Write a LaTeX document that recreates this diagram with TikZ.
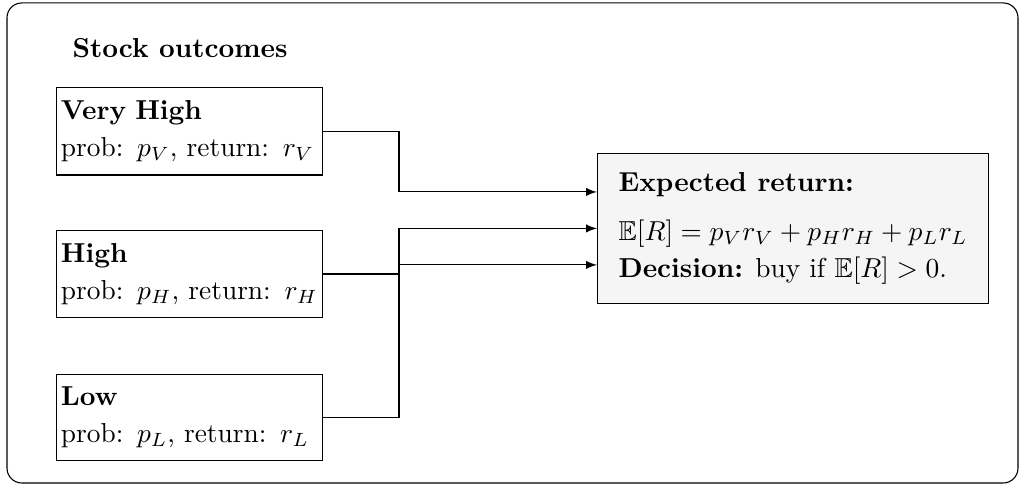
\documentclass[tikz,border=0pt]{standalone}
\usepackage{amsmath}
\usepackage{amssymb}
\usepackage{tikz}

\tikzset{
    outcome/.style={draw, anchor=west, align=left, text width=3.3cm, inner xsep=1.6pt, inner ysep=4.7pt},
    result/.style={draw, fill=black!4, anchor=west, align=left, inner xsep=7.7pt, inner ysep=7pt}
}

\begin{document}
\begin{tikzpicture}
    \useasboundingbox (0, 0) rectangle (13.147, 6.246);
    \draw[rounded corners=0.19cm] (0.09, 0.051) rectangle (13.057, 6.208);

    \node[anchor=west, inner sep=0] (title) at (0.923, 5.63) {\textbf{Stock outcomes}};

    \node[outcome] (vhigh) at (0.718, 4.56) {\textbf{Very High}\\[1.5pt] prob: $p_V$, return: $r_V$};
    \node[outcome] (high) at (0.718, 2.732) {\textbf{High}\\[1.5pt] prob: $p_H$, return: $r_H$};
    \node[outcome] (low) at (0.718, 0.891) {\textbf{Low}\\[1.5pt] prob: $p_L$, return: $r_L$};

    \node[result] (expret) at (7.657, 3.316) {\textbf{Expected return:}\\[6pt]
        $\mathbb{E}[R] = p_V r_V + p_H r_H + p_L r_L$\\[1.4pt]
        \textbf{Decision:} buy if $\mathbb{E}[R] > 0$.};

    \coordinate (jx) at (5.118, 0);

    \draw[-latex] (vhigh.east) -- (vhigh.east -| jx) |- ([yshift=0.468cm]expret.west);
    \draw[-latex] (low.east) -- (low.east -| jx) |- (expret.west);
    \draw[-latex] (high.east) -- (high.east -| jx) |- ([yshift=-0.468cm]expret.west);

\end{tikzpicture}
\end{document}
